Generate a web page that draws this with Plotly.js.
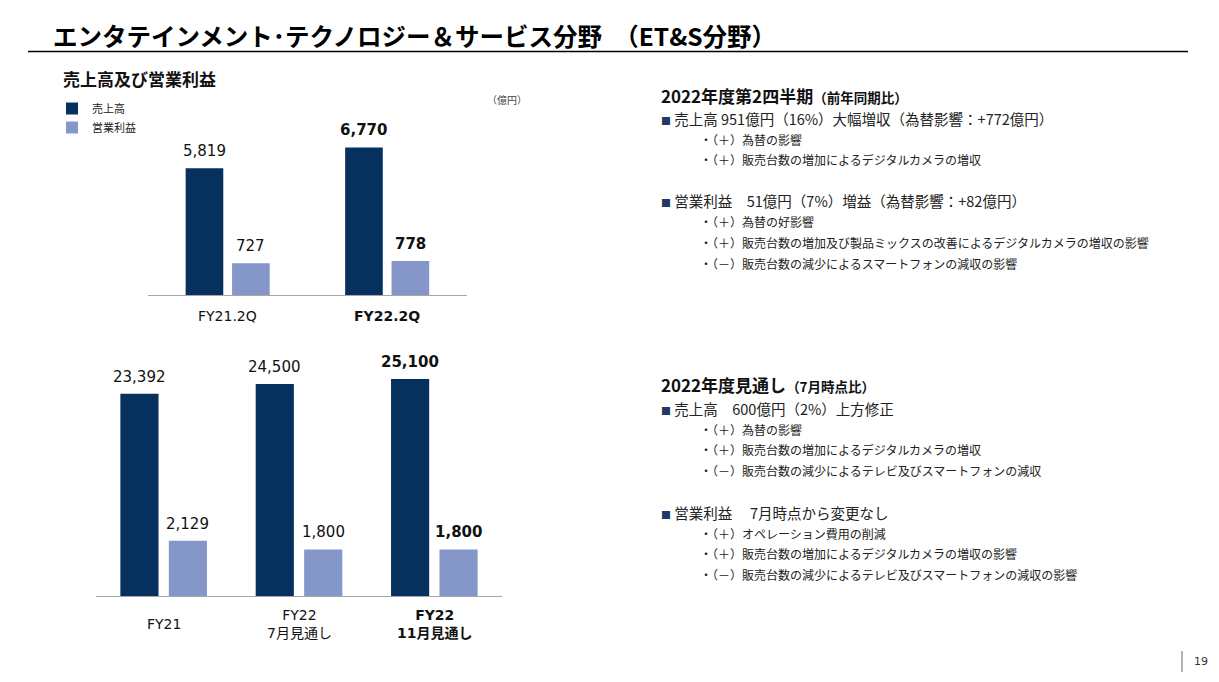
<!DOCTYPE html>
<html><head><meta charset="utf-8">
<script src="https://cdn.plot.ly/plotly-3.0.1.min.js"></script>
<style>html,body{margin:0;padding:0;background:#fff;} #chart{width:1219px;height:682px;}</style>
</head><body><div id="chart"></div>
<script>
// ---------- data ----------
const quarterCats = ['FY21.2Q', 'FY22.2Q'];
const quarterSales = [5819, 6770];
const quarterOI = [727, 778];

const yearCats = ['FY21', 'FY22 7月見通し', 'FY22 11月見通し'];
const yearLabels = ['FY21', 'FY22<br>7月見通し', 'FY22<br>11月見通し'];
const yearSales = [23392, 24500, 25100];
const yearOI = [2129, 1800, 1800];

const seriesNames = ['売上高', '営業利益'];
const unitLabel = '（億円）';
const pageTitle = 'エンタテインメント･テクノロジー＆サービス分野　（ET&amp;S分野）';
const chartTitle = '売上高及び営業利益';

const q2Heading = '2022年度第2四半期';
const q2HeadingNote = '（前年同期比）';
const q2Sales = '売上高 951億円（16%）大幅増収（為替影響：+772億円）';
const q2SalesItems = ['（＋）為替の影響', '（＋）販売台数の増加によるデジタルカメラの増収'];
const q2OI = '営業利益　51億円（7%）増益（為替影響：+82億円）';
const q2OIItems = ['（＋）為替の好影響', '（＋）販売台数の増加及び製品ミックスの改善によるデジタルカメラの増収の影響', '（－）販売台数の減少によるスマートフォンの減収の影響'];

const fyHeading = '2022年度見通し';
const fyHeadingNote = '（7月時点比）';
const fySales = '売上高　600億円（2%）上方修正';
const fySalesItems = ['（＋）為替の影響', '（＋）販売台数の増加によるデジタルカメラの増収', '（－）販売台数の減少によるテレビ及びスマートフォンの減収'];
const fyOI = '営業利益　 7月時点から変更なし';
const fyOIItems = ['（＋）オペレーション費用の削減', '（＋）販売台数の増加によるデジタルカメラの増収の影響', '（－）販売台数の減少によるテレビ及びスマートフォンの減収の影響'];
const pageNumber = '19';

// ---------- helpers ----------
const W = 1219, H = 682;
const px = v => v / W;
const py = v => 1 - v / H;
const NAVY = '#06315F';
const LIGHT = '#8497C8';
const NUMFONT = 'DejaVu Sans, Noto Sans CJK JP, sans-serif';
const JPFONT = 'Noto Sans CJK JP, sans-serif';
const fmt = v => v.toLocaleString('en-US');
const bold = (s, on) => on ? '<b>' + s + '</b>' : s;

const topW = 0.236, topSalesOff = -0.264, topOIOff = 0.027;
const botW = 0.282, botSalesOff = -0.320, botOIOff = 0.038;

const traces = [
  {type: 'bar', x: quarterCats, y: quarterSales, xaxis: 'x', yaxis: 'y', name: seriesNames[0],
   marker: {color: NAVY}, width: topW, offset: topSalesOff, hoverinfo: 'skip', showlegend: true},
  {type: 'bar', x: quarterCats, y: quarterOI, xaxis: 'x', yaxis: 'y2', name: seriesNames[1],
   marker: {color: LIGHT}, width: topW, offset: topOIOff, hoverinfo: 'skip', showlegend: true},
  {type: 'bar', x: yearCats, y: yearSales, xaxis: 'x2', yaxis: 'y3', name: seriesNames[0],
   marker: {color: NAVY}, width: botW, offset: botSalesOff, hoverinfo: 'skip', showlegend: false},
  {type: 'bar', x: yearCats, y: yearOI, xaxis: 'x2', yaxis: 'y4', name: seriesNames[1],
   marker: {color: LIGHT}, width: botW, offset: botOIOff, hoverinfo: 'skip', showlegend: false}
];

const ann = [];
function valueLabels(vals, xref, yref, off, w) {
  vals.forEach((v, i) => {
    const last = i === vals.length - 1;
    ann.push({x: i + off + w / 2, y: v, xref: xref, yref: yref, text: bold(fmt(v), last),
      showarrow: false, yanchor: 'middle', yshift: 17,
      font: {family: NUMFONT, size: 15, color: '#111'}});
  });
}
valueLabels(quarterSales, 'x', 'y', topSalesOff, topW);
valueLabels(quarterOI, 'x', 'y2', topOIOff, topW);
valueLabels(yearSales, 'x2', 'y3', botSalesOff, botW);
valueLabels(yearOI, 'x2', 'y4', botOIOff, botW);

quarterCats.forEach((c, i) => ann.push({x: i, y: py(316), xref: 'x', yref: 'paper', text: bold(c, i === quarterCats.length - 1),
  showarrow: false, yanchor: 'middle', font: {family: NUMFONT, size: 14, color: '#111'}}));
yearLabels.forEach((c, i) => ann.push({x: i, y: py(624), xref: 'x2', yref: 'paper', text: bold(c, i === yearLabels.length - 1),
  showarrow: false, yanchor: 'middle', font: {family: NUMFONT, size: 14, color: '#111'}}));

ann.push({x: px(51), y: py(36), xref: 'paper', yref: 'paper', xanchor: 'left', yanchor: 'middle', showarrow: false,
  text: '<b>' + pageTitle + '</b>', font: {family: JPFONT, size: 24.5, color: '#000'}});
ann.push({x: px(61), y: py(78), xref: 'paper', yref: 'paper', xanchor: 'left', yanchor: 'middle', showarrow: false,
  text: '<b>' + chartTitle + '</b>', font: {family: JPFONT, size: 17, color: '#111'}});
ann.push({x: px(485), y: py(100), xref: 'paper', yref: 'paper', xanchor: 'left', yanchor: 'middle', showarrow: false,
  text: unitLabel, font: {family: JPFONT, size: 10, color: '#444'}});
ann.push({x: px(1192), y: py(661), xref: 'paper', yref: 'paper', xanchor: 'left', yanchor: 'middle', showarrow: false,
  text: pageNumber, font: {family: NUMFONT, size: 11, color: '#333'}});

function line(text, x, y, size, color) {
  ann.push({x: px(x), y: py(y), xref: 'paper', yref: 'paper', xanchor: 'left', yanchor: 'middle', showarrow: false,
    text: text, font: {family: JPFONT, size: size, color: color || '#222'}});
}
const sq = '<span style="color:#1F3864;font-size:10px">■</span> ';
function block(heading, note, yHead, mainA, itemsA, yA, mainB, itemsB, yB) {
  line('<b>' + heading + '<span style="font-size:13.5px">' + note + '</span></b>', 659, yHead, 17, '#111');
  line(sq + mainA, 659, yA, 14.5);
  itemsA.forEach((t, i) => line('・' + t, 698, yA + 21 + i * 20.5, 12));
  line(sq + mainB, 659, yB, 14.5);
  itemsB.forEach((t, i) => line('・' + t, 698, yB + 21 + i * 20.8, 12));
}
block(q2Heading, q2HeadingNote, 96, q2Sales, q2SalesItems, 118, q2OI, q2OIItems, 201);
block(fyHeading, fyHeadingNote, 384, fySales, fySalesItems, 408, fyOI, fyOIItems, 512);

const hiddenY = {showgrid: false, zeroline: false, showticklabels: false, showline: false, ticks: ''};
const layout = {
  width: W, height: H, margin: {l: 0, r: 0, t: 0, b: 0}, paper_bgcolor: '#fff', plot_bgcolor: 'rgba(0,0,0,0)',
  barmode: 'overlay', showlegend: true,
  legend: {x: px(52), xanchor: 'left', y: py(94), yanchor: 'top', bgcolor: 'rgba(0,0,0,0)',
    font: {family: JPFONT, size: 11, color: '#222'}, tracegroupgap: 0, itemwidth: 30},
  xaxis: {domain: [px(148), px(467)], anchor: 'y', type: 'category', range: [-0.5, 1.5],
    showline: true, linecolor: '#A6A6A6', linewidth: 1, showticklabels: false, ticks: '', showgrid: false},
  yaxis: Object.assign({domain: [py(295), py(140)], range: [0, 7110], anchor: 'x'}, hiddenY),
  yaxis2: Object.assign({overlaying: 'y', range: [0, 3539], anchor: 'x'}, hiddenY),
  xaxis2: {domain: [px(96), px(502)], anchor: 'y3', type: 'category', range: [-0.5, 2.5],
    showline: true, linecolor: '#A6A6A6', linewidth: 1, showticklabels: false, ticks: '', showgrid: false},
  yaxis3: Object.assign({domain: [py(596), py(360)], range: [0, 27283], anchor: 'x2'}, hiddenY),
  yaxis4: Object.assign({overlaying: 'y3', range: [0, 9112], anchor: 'x2'}, hiddenY),
  annotations: ann,
  shapes: [
    {type: 'line', xref: 'paper', yref: 'paper', x0: px(28), x1: px(1188), y0: py(51.5), y1: py(51.5),
     line: {color: '#000', width: 1.5}},
    {type: 'line', xref: 'paper', yref: 'paper', x0: px(1182), x1: px(1182), y0: py(651), y1: py(672),
     line: {color: '#666', width: 1}}
  ]
};
Plotly.newPlot('chart', traces, layout, {displayModeBar: false, staticPlot: true});
</script>
</body></html>
